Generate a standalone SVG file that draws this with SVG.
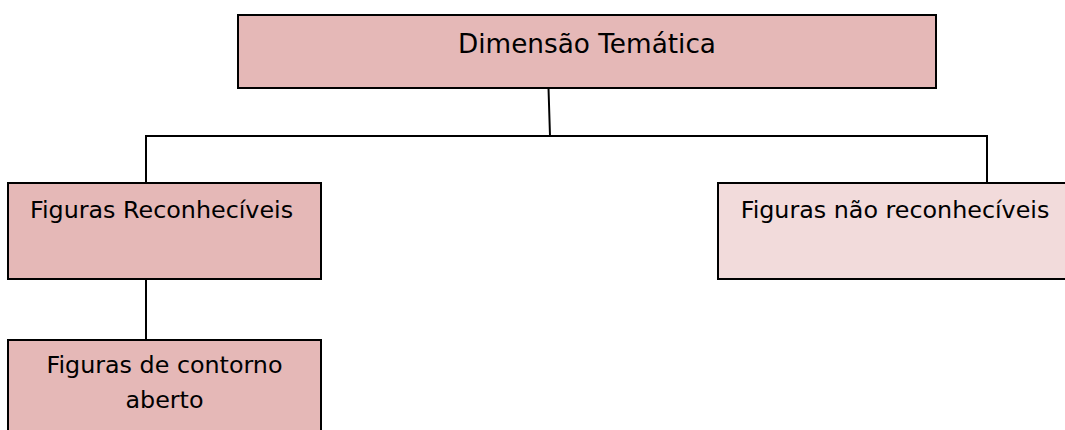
<svg xmlns="http://www.w3.org/2000/svg" width="1065" height="430" viewBox="0 0 1065 430">
<style>
.box{stroke:#000;stroke-width:2}
.dark{fill:#E5B8B7}
.light{fill:#F2DBDB}
.t{font-family:"DejaVu Sans","Liberation Sans",sans-serif;fill:#000}
.conn{stroke:#000;stroke-width:2;fill:none}
</style>
<rect width="1065" height="430" fill="#fff"/>
<g id="connectors">
<line class="conn" x1="548.5" y1="88" x2="550" y2="136"/>
<polyline class="conn" points="146,183 146,136 987,136 987,183"/>
<line class="conn" x1="146" y1="279" x2="146" y2="340"/>
</g>
<g id="node-dimensao">
<rect class="box dark" x="238" y="15" width="698" height="73"/>
<text class="t" x="587" y="52.7" font-size="26.3" text-anchor="middle">Dimensão Temática</text>
</g>
<g id="node-reconheciveis">
<rect class="box dark" x="8" y="183" width="313" height="96"/>
<text class="t" x="30" y="218.3" font-size="23.8">Figuras Reconhecíveis</text>
</g>
<g id="node-nao-reconheciveis">
<rect class="box light" x="718" y="183" width="360" height="96"/>
<text class="t" x="740.7" y="218.3" font-size="23.8">Figuras não reconhecíveis</text>
</g>
<g id="node-contorno">
<rect class="box dark" x="8" y="340" width="313" height="100"/>
<text class="t" x="164.5" y="373.3" font-size="23.8" text-anchor="middle">Figuras de contorno</text>
<text class="t" x="164.5" y="408.3" font-size="23.8" text-anchor="middle">aberto</text>
</g>
</svg>
